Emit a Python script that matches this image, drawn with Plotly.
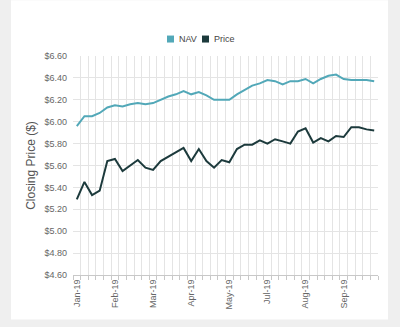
import plotly.graph_objects as go

weeks = list(range(40))
tick_idx = [0, 5, 10, 15, 20, 25, 30, 35]
tick_labels = ["Jan-19", "Feb-19", "Mar-19", "Apr-19", "May-19", "Jul-19", "Aug-19", "Sep-19"]

nav = [5.96, 6.05, 6.05, 6.08, 6.13, 6.15, 6.14, 6.16, 6.17, 6.16,
       6.17, 6.20, 6.23, 6.25, 6.28, 6.25, 6.27, 6.24, 6.20, 6.20,
       6.20, 6.25, 6.29, 6.33, 6.35, 6.38, 6.37, 6.34, 6.37, 6.37,
       6.39, 6.35, 6.39, 6.42, 6.43, 6.39, 6.38, 6.38, 6.38, 6.37]
price = [5.29, 5.45, 5.33, 5.37, 5.64, 5.66, 5.55, 5.60, 5.65, 5.58,
         5.56, 5.64, 5.68, 5.72, 5.76, 5.64, 5.75, 5.64, 5.58, 5.65,
         5.63, 5.75, 5.79, 5.79, 5.83, 5.80, 5.84, 5.82, 5.80, 5.91,
         5.94, 5.81, 5.85, 5.82, 5.87, 5.86, 5.95, 5.95, 5.93, 5.92]

NAV_C = "#52a8b8"
PRICE_C = "#1c3a3c"
FONT = "Liberation Sans, Arial, sans-serif"

fig = go.Figure()
fig.add_trace(go.Scatter(x=weeks, y=nav, mode="lines", name="NAV",
                         line=dict(color=NAV_C, width=2), showlegend=False))
fig.add_trace(go.Scatter(x=weeks, y=price, mode="lines", name="Price",
                         line=dict(color=PRICE_C, width=2), showlegend=False))

L, R, T, B = 73, 22, 56, 51.5
W, H = 400, 327
pw, ph = W - L - R, H - T - B

def px(x):
    return (x - L) / pw

def py(y):
    return (H - B - y) / ph

shapes = [
    dict(type="rect", xref="paper", yref="paper", layer="below",
         x0=px(11), x1=px(388), y0=py(320), y1=py(0),
         fillcolor="white", line=dict(width=0)),
    dict(type="rect", xref="paper", yref="paper",
         x0=px(167), x1=px(174), y0=py(42.5), y1=py(35.5),
         fillcolor=NAV_C, line=dict(width=0)),
    dict(type="rect", xref="paper", yref="paper",
         x0=px(202), x1=px(209), y0=py(42.5), y1=py(35.5),
         fillcolor=PRICE_C, line=dict(width=0)),
]
annotations = [
    dict(text="NAV", xref="paper", yref="paper", x=px(177), y=py(39),
         xanchor="left", yanchor="middle", showarrow=False,
         font=dict(size=9, color="#444", family=FONT)),
    dict(text="Price", xref="paper", yref="paper", x=px(212), y=py(39),
         xanchor="left", yanchor="middle", showarrow=False,
         font=dict(size=9, color="#444", family=FONT)),
]

fig.update_layout(
    width=W, height=H,
    margin=dict(l=L, r=R, t=T, b=B),
    paper_bgcolor="#efefef",
    plot_bgcolor="white",
    font=dict(family=FONT, size=9, color="#666"),
    shapes=shapes,
    annotations=annotations,
    showlegend=False,
    xaxis=dict(
        range=[-0.5, 39.5],
        tickmode="array", tickvals=tick_idx, ticktext=tick_labels,
        tickangle=-90, showgrid=False, ticks="",
        showline=True, linecolor="#c8c8c8", linewidth=1,
        zeroline=False, tickfont=dict(size=9, color="#666"),
        minor=dict(tick0=-0.5, dtick=1, showgrid=True, gridcolor="#e4e4e4",
                   gridwidth=1, ticks="outside", ticklen=4, tickcolor="#c8c8c8"),
    ),
    yaxis=dict(
        range=[4.6, 6.6], dtick=0.2, tick0=4.6,
        tickprefix="$", tickformat=".2f",
        showgrid=True, gridcolor="#e4e4e4", gridwidth=1,
        zeroline=False, showline=False, ticks="",
        ticklabelstandoff=5,
        tickfont=dict(size=9, color="#666"),
        title=dict(text="Closing Price ($)", font=dict(size=12, color="#555", family=FONT),
                   standoff=6),
    ),
)

fig.write_html("out.html")
